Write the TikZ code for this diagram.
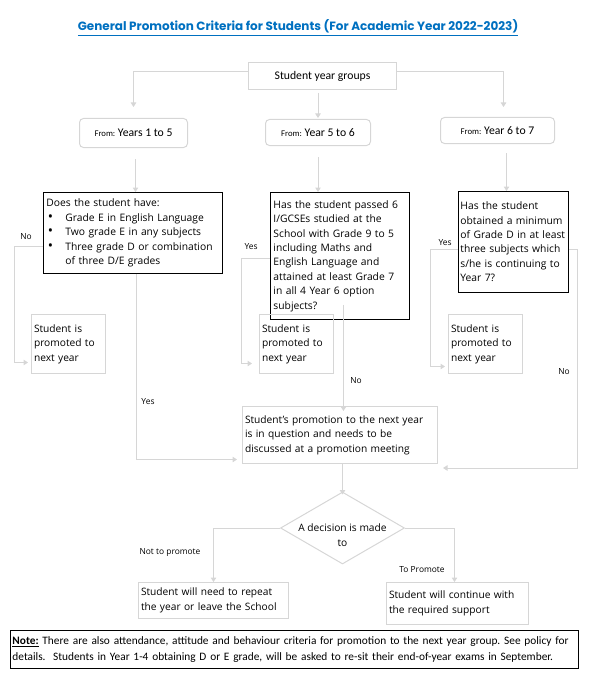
\documentclass[tikz,border=0pt]{standalone}
\usepackage{fontspec}
\setmainfont{Open Sans}
\newfontfamily\calfont{Carlito}
\newfontfamily\headfont{Poppins}
\usetikzlibrary{positioning,shapes.geometric,arrows.meta}
\definecolor{linegray}{RGB}{214,214,214}
\definecolor{titleblue}{RGB}{0,112,192}
\newcommand\qbul{\makebox[19pt][l]{\hspace{1.5pt}\raisebox{-0.3pt}{\scalebox{1.35}{\textbullet}}}}
\hyphenpenalty=10000
\exhyphenpenalty=10000
\frenchspacing

\begin{document}
\begin{tikzpicture}[x=1pt,y=-1pt,
    flow/.style={draw=linegray,line width=1pt,-{Triangle[length=4.5pt,width=5.5pt]}},
    qbox/.style={draw=black,line width=0.9pt,anchor=north west,align=left,inner xsep=3pt,inner ysep=3pt,
                 font=\fontsize{10.3}{14.4}\selectfont},
    lbox/.style={draw=linegray,line width=1pt,anchor=north west,align=left,inner xsep=2.5pt,inner ysep=3pt,
                 font=\fontsize{10.2}{14.6}\selectfont},
    ybox/.style={draw=linegray,line width=1pt,rounded corners=4pt,anchor=north west,inner sep=0pt,
                 font=\calfont\fontsize{11.7}{14}\selectfont},
    lab/.style={font=\fontsize{8.4}{10}\selectfont}]
  \useasboundingbox (0,0) rectangle (609,682);

  % Title
  \node[anchor=base,text=titleblue,font=\headfont\bfseries\fontsize{12}{14}\selectfont] (title) at (298,31)
    {\underline{General Promotion Criteria for Students (For Academic Year 2022-2023)}};

  % Year groups
  \node[draw=linegray,line width=1pt,anchor=north west,minimum width=148pt,minimum height=27pt,
        font=\calfont\fontsize{11.7}{14}\selectfont] (top) at (248,62) {Student year groups};
  \node[ybox,minimum width=108pt,minimum height=29pt] (b1) at (79,118) {{\fontsize{8.7}{10}\selectfont From:} Years 1 to 5};
  \node[ybox,minimum width=105pt,minimum height=26pt] (b2) at (265,119) {{\fontsize{8.7}{10}\selectfont From:} Year 5 to 6};
  \node[ybox,minimum width=114pt,minimum height=26pt] (b3) at (440,117) {{\fontsize{8.7}{10}\selectfont From:} Year 6 to 7};

  % Questions
  \node[qbox,text width=173pt,minimum height=81pt] (q1) at (43,192) {Does the student have:\\
    \qbul Grade E in English Language\\
    \qbul Two grade E in any subjects\\
    \qbul Three grade D or combination\\
    \hspace*{19pt}of three D/E grades};
  \node[qbox,text width=133pt,minimum height=127pt] (q2) at (270,192) {Has the student passed 6\\
    I/GCSEs studied at the\\School with Grade 9 to 5\\including Maths and\\English Language and\\
    attained at least Grade 7\\in all 4 Year 6 option\\subjects?};
  \node[qbox,inner xsep=2pt,text width=106pt,minimum height=101pt] (q3) at (458,191) {Has the student\\obtained a minimum\\
    of Grade D in at least\\three subjects which\\s/he is continuing to\\Year 7?};

  % Promoted boxes
  \foreach \n/\x in {p1/31,p2/259,p3/448}
    \node[lbox,text width=69pt,minimum height=59pt] (\n) at (\x,314) {Student is\\promoted to\\next year};

  % Meeting, decision, outcomes
  \node[lbox,text width=190pt,minimum height=57pt] (meet) at (242,406) {Student's promotion to the next year\\
    is in question and needs to be\\discussed at a promotion meeting};
  \node[diamond,draw=linegray,line width=1pt,aspect=1.7,minimum width=124pt,minimum height=72pt,inner sep=0pt]
    (dec) at (342.5,528) {};
  \node[align=center,font=\fontsize{10.2}{15}\selectfont] (dec-t) at (342.5,535) {A decision is made\\to};
  \node[lbox,text width=145pt,minimum height=36pt] (r1) at (138,582) {Student will need to repeat\\the year or leave the School};
  \node[lbox,text width=137pt,minimum height=42pt] (r2) at (386,582) {Student will continue with\\the required support};

  % Note
  \node[draw=black,line width=0.9pt,anchor=north west,align=left,text width=564pt,minimum height=38pt,inner xsep=2pt,
        font=\calfont\fontsize{11.35}{16}\selectfont] (note) at (10,630)
    {\underline{\textbf{Note:}} There are also attendance, attitude and behaviour criteria for promotion to the next year group. See policy for\\
     details.\ \ Students in Year 1-4 obtaining D or E grade, will be asked to re-sit their end-of-year exams in September.};

  % Connectors
  \draw[flow,shorten >=11pt] ([yshift=4.5pt]top.west) -| (b1.north);
  \draw[flow,shorten >=10pt] ([yshift=4.5pt]top.east) -| ([xshift=6pt]b3.north);
  \draw[flow,shorten <=3pt,shorten >=1pt] (top.south -| b2.north) -- (b2.north);
  \draw[flow,shorten <=11pt] ([xshift=2pt]b1.south) -- ([xshift=2pt]b1.south |- q1.north);
  \draw[flow,shorten <=11pt] (b2.south) -- (b2.south |- q2.north);
  \draw[flow,shorten <=9pt] ([xshift=9pt]b3.south) -- ([xshift=9pt]b3.south |- q3.north);

  \draw[flow] ([yshift=-13.5pt]q1.west) -- ++(-29pt,0) |- ([xshift=-3pt,yshift=-18.5pt]p1.west);
  \draw[flow] ([yshift=-2.5pt]q2.west) -- ++(-29pt,0) |- ([xshift=-7pt,yshift=-19.5pt]p2.west);
  \draw[flow] ([yshift=-7.5pt]q3.west) -- ++(-28pt,0) |- ([xshift=-3pt,yshift=-22.5pt]p3.west);
  \draw[flow] ([yshift=-7.5pt]q3.east) -- ++(9pt,0) |- ([xshift=5pt,yshift=-4pt]meet.south east);
  \draw[flow] ([xshift=3.5pt]q1.south) |- ([xshift=-5pt,yshift=-24.5pt]meet.west);
  \coordinate (q2drop) at ([xshift=3.5pt,yshift=15pt]q2.south);
  \draw[flow,shorten >=-5pt] (q2drop) -- (q2drop |- meet.north);
  \draw[flow,shorten >=-3pt] (meet.south -| dec.north) -- (dec.north);
  \draw[flow] (dec.west) -| (r1.north);
  \draw[flow] (dec.east) -| ([xshift=-3pt]r2.north);

  % Branch labels
  \node[lab] (l-q1no) at (26,237) {No};
  \node[lab] (l-q2yes) at (251,247) {Yes};
  \node[lab] (l-q3yes) at (445,243) {Yes};
  \node[lab] (l-q3no) at (564,372) {No};
  \node[lab] (l-q1yes) at (148,402) {Yes};
  \node[lab] (l-q2no) at (356,381) {No};
  \node[lab] (l-not) at (170,553) {Not to promote};
  \node[lab] (l-to) at (422,570) {To Promote};
\end{tikzpicture}
\end{document}
